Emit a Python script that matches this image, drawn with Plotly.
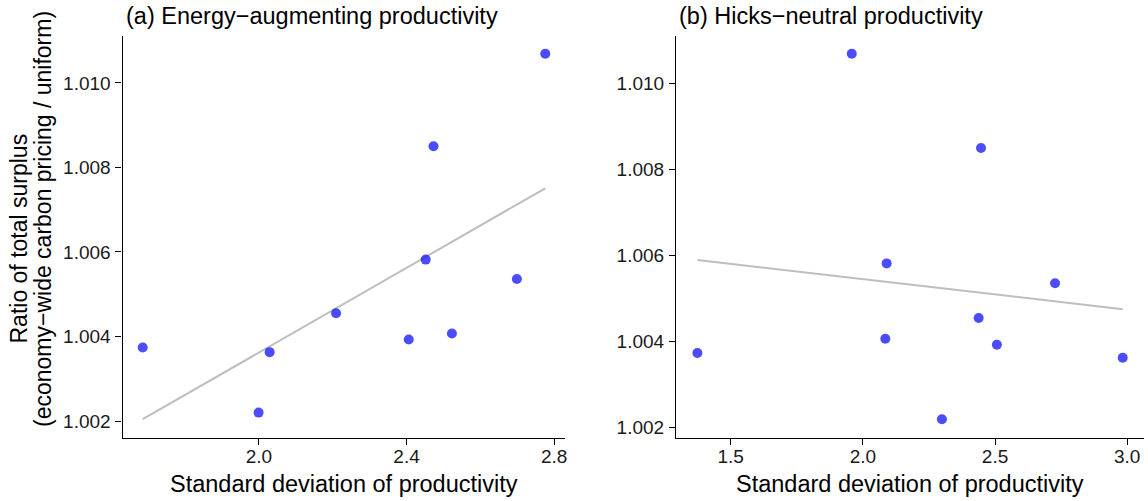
import numpy as np
import plotly.graph_objects as go

# ---- data ----
ratio = [1.00374, 1.00220, 1.00363, 1.00455, 1.00393, 1.00582, 1.00850, 1.00407, 1.00536, 1.01069]
sd_energy = [1.685, 1.999, 2.029, 2.209, 2.406, 2.452, 2.473, 2.523, 2.699, 2.776]
sd_hicks = [1.374, 2.299, 2.983, 2.438, 2.507, 2.090, 2.447, 2.085, 2.727, 1.958]

panel_titles = ["(a) Energy\u2212augmenting productivity", "(b) Hicks\u2212neutral productivity"]
x_title = "Standard deviation of productivity"
y_title_1 = "Ratio of total surplus"
y_title_2 = "(economy\u2212wide carbon pricing / uniform)"

x_ticks_a = [2.0, 2.4, 2.8]
x_ticks_b = [1.5, 2.0, 2.5, 3.0]
y_ticks = [1.002, 1.004, 1.006, 1.008, 1.010]

W, H = 1148, 501
FONT = "Liberation Sans"
POINT_COLOR = "rgba(0,0,255,0.7)"
LINE_COLOR = "#BEBEBE"

def px_x(p):
    return p / W

def px_y(p):
    return 1 - p / H

def expand(lo, hi, f=0.05):
    d = (hi - lo) * f
    return [lo - d, hi + d]

fig = go.Figure()

panels = [
    (sd_energy, x_ticks_a, "x", "y", (122.6, 565.4)),
    (sd_hicks, x_ticks_b, "x2", "y2", (676.1, 1144.0)),
]
y_dom = [px_y(437.5), px_y(35.5)]

for i, (xs, xt, xa, ya, (l, r)) in enumerate(panels):
    xs_arr = np.array(xs)
    ys_arr = np.array(ratio)
    b1, b0 = np.polyfit(xs_arr, ys_arr, 1)
    xl = np.array([xs_arr.min(), xs_arr.max()])
    yl = b0 + b1 * xl
    fig.add_trace(go.Scatter(x=xl, y=yl, mode="lines", xaxis=xa, yaxis=ya,
                             line=dict(color=LINE_COLOR, width=2), showlegend=False,
                             hoverinfo="skip"))
    fig.add_trace(go.Scatter(x=xs, y=ratio, mode="markers", xaxis=xa, yaxis=ya,
                             marker=dict(color=POINT_COLOR, size=10, line=dict(width=0)),
                             showlegend=False))
    xr = expand(xs_arr.min(), xs_arr.max())
    yr = expand(min(ys_arr.min(), yl.min()), max(ys_arr.max(), yl.max()))
    axis_common = dict(showline=True, linecolor="black", linewidth=1.3, ticks="outside",
                       ticklen=6, tickwidth=1.3, tickcolor="black", showgrid=False,
                       zeroline=False, automargin=False,
                       tickfont=dict(family=FONT, size=19, color="#1a1a1a"))
    key = "" if i == 0 else "2"
    fig.layout["xaxis" + key] = dict(axis_common, domain=[px_x(l), px_x(r)], range=xr,
                                     tickvals=xt, ticktext=[f"{v:.1f}" for v in xt],
                                     anchor=ya, ticklabelstandoff=-4)
    fig.layout["yaxis" + key] = dict(axis_common, domain=y_dom, range=yr,
                                     tickvals=y_ticks, ticktext=[f"{v:.3f}" for v in y_ticks],
                                     anchor=xa, ticklabelstandoff=1)
    # panel title
    fig.add_annotation(text=panel_titles[i], xref="paper", yref="paper",
                       x=px_x(l + 1), y=px_y(15.5), xanchor="left", yanchor="middle",
                       showarrow=False, font=dict(family=FONT, size=23.5, color="black"))
    # x axis title
    fig.add_annotation(text=x_title, xref="paper", yref="paper",
                       x=px_x((l + r) / 2), y=px_y(484), xanchor="center", yanchor="middle",
                       showarrow=False, font=dict(family=FONT, size=23.5, color="black"))

fig.add_annotation(text=y_title_1, xref="paper", yref="paper", x=px_x(18), y=px_y(238.5),
                   xanchor="center", yanchor="middle", textangle=-90, showarrow=False,
                   font=dict(family=FONT, size=23, color="black"))
fig.add_annotation(text=y_title_2, xref="paper", yref="paper", x=px_x(43), y=px_y(219),
                   xanchor="center", yanchor="middle", textangle=-90, showarrow=False,
                   font=dict(family=FONT, size=23, color="black"))

fig.update_layout(width=W, height=H, margin=dict(l=0, r=0, t=0, b=0),
                  paper_bgcolor="white", plot_bgcolor="white", showlegend=False)

fig.write_html("out.html", config={"displayModeBar": False},
               post_script="document.body.style.margin='0';document.body.style.overflow='hidden';")
